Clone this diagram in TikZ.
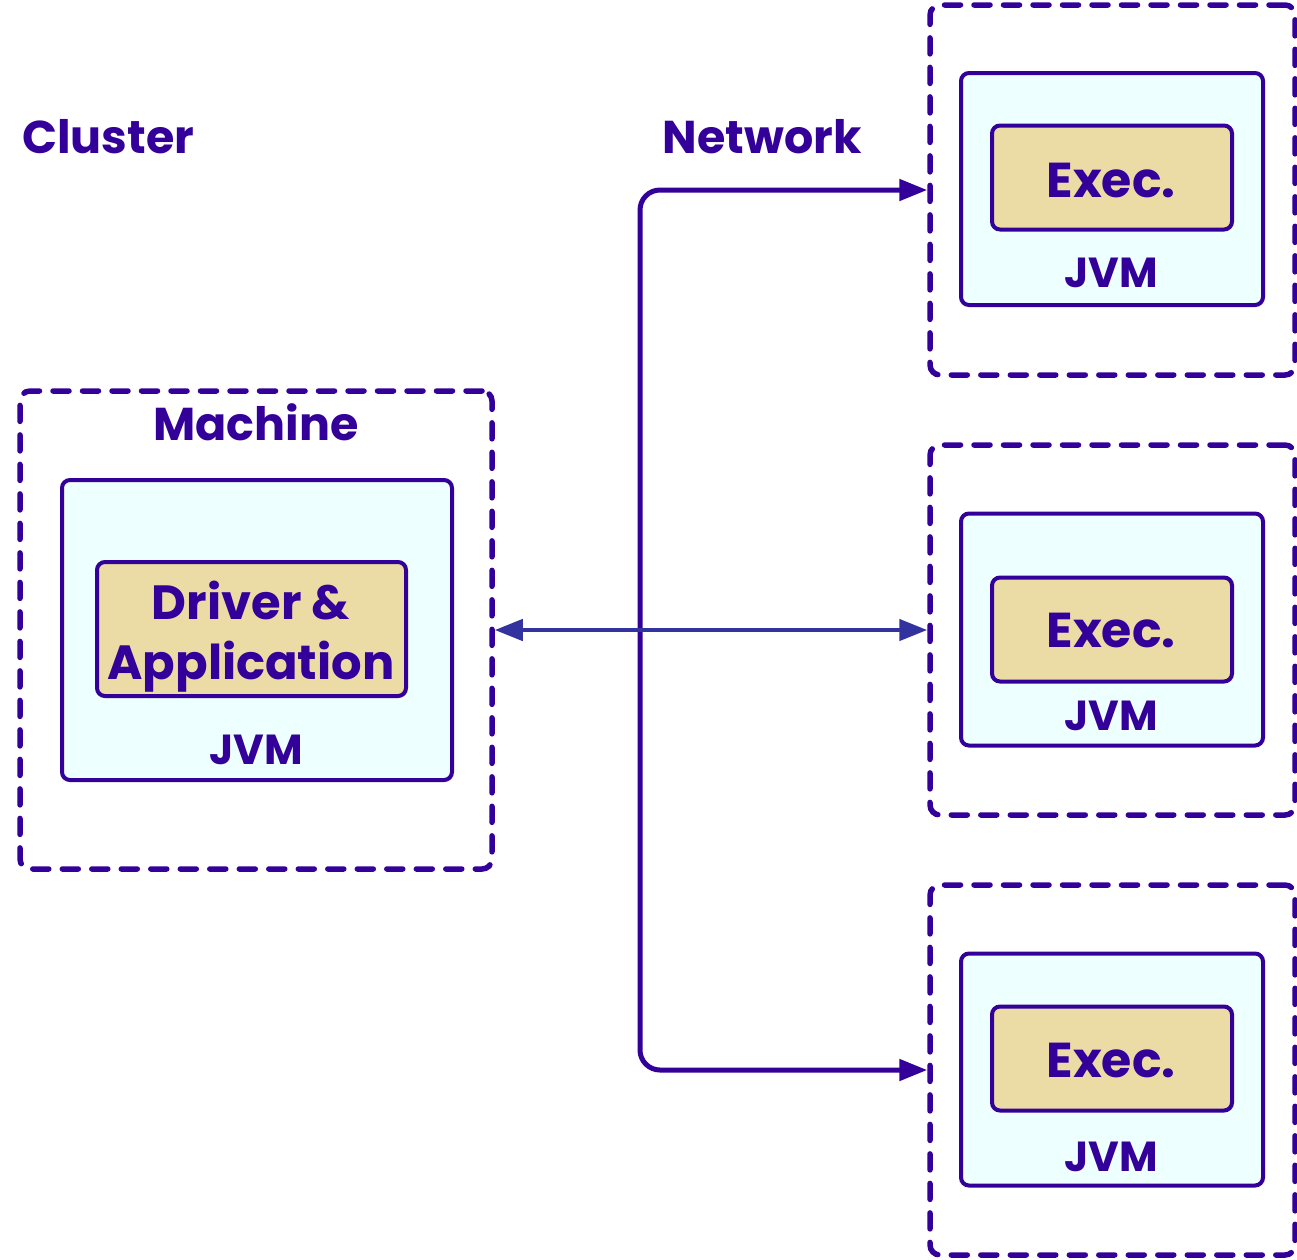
\documentclass[tikz,border=0pt]{standalone}
\usepackage{fontspec}
\setmainfont{Poppins}
\usetikzlibrary{arrows.meta}
\definecolor{ink}{HTML}{330099}
\definecolor{arrowc}{HTML}{3333A0}
\definecolor{jvmfill}{HTML}{EEFFFF}
\definecolor{execfill}{HTML}{EBDCA5}
\tikzset{
  dashbox/.style={draw=ink, line width=5.5pt, dash pattern=on 16pt off 13.5pt, line cap=round, rounded corners=10pt, inner sep=0pt},
  jvmbox/.style={draw=ink, fill=jvmfill, line width=4pt, rounded corners=8pt, inner sep=0pt},
  execbox/.style={draw=ink, fill=execfill, line width=4pt, rounded corners=8pt, inner sep=0pt},
  lbl/.style={text=ink, font=\bfseries\fontsize{46}{52}\selectfont, inner sep=0pt},
  bigl/.style={text=ink, font=\bfseries\fontsize{48}{60}\selectfont, inner sep=0pt, align=center},
  execl/.style={text=ink, font=\bfseries\fontsize{49}{56}\selectfont, inner sep=0pt},
  jvml/.style={text=ink, font=\bfseries\fontsize{42}{48}\selectfont, inner sep=0pt},
}
\begin{document}
\begin{tikzpicture}[x=1pt,y=-1pt]
\useasboundingbox (0,0) rectangle (1297,1259);
% titles
\node[lbl, anchor=west] (cluster) at (22,137) {Cluster};
\node[lbl] (network) at (762,137) {Network};
% machine
\node[dashbox, minimum width=472pt, minimum height=478pt] (mach) at (256,630) {};
\node[lbl] (machl) at (256,422) {Machine};
\node[jvmbox, minimum width=390pt, minimum height=300pt] (jvm0) at (257,630) {};
\node[execbox, minimum width=309pt, minimum height=134pt] (drv) at (251.5,629) {};
\node[bigl] (drvl) at (251,637) {Driver \&\\Application};
\node[jvml] (jvml0) at (256,750) {JVM};
% workers
\foreach \i/\dy/\jy/\ey/\ety/\jty in {1/190/189/177.5/180/273, 2/630/629.5/629.5/630/716, 3/1070/1069.5/1058.5/1060/1157}{
  \node[dashbox, minimum width=365pt, minimum height=370pt] (w\i) at (1112.5,\dy) {};
  \node[jvmbox, minimum width=302pt, minimum height=232pt] (j\i) at (1112,\jy) {};
  \node[execbox, minimum width=240pt, minimum height=104pt] (e\i) at (1112,\ey) {};
  \node[execl] (el\i) at (1111,\ety) {Exec.};
  \node[jvml] (jl\i) at (1111,\jty) {JVM};
}
% connectors
\coordinate (bend1) at (640,190);
\coordinate (bend3) at (640,1070);
\draw[draw=ink, line width=5pt, rounded corners=20pt, {Triangle[length=28pt,width=21pt]}-{Triangle[length=28pt,width=21pt]}]
  (w1.west) -- (bend1) -- (bend3) -- (w3.west);
\draw[draw=arrowc, line width=4.5pt, {Triangle[length=28pt,width=21pt]}-{Triangle[length=28pt,width=21pt]}]
  (mach.east) -- (w2.west);
\end{tikzpicture}
\end{document}
